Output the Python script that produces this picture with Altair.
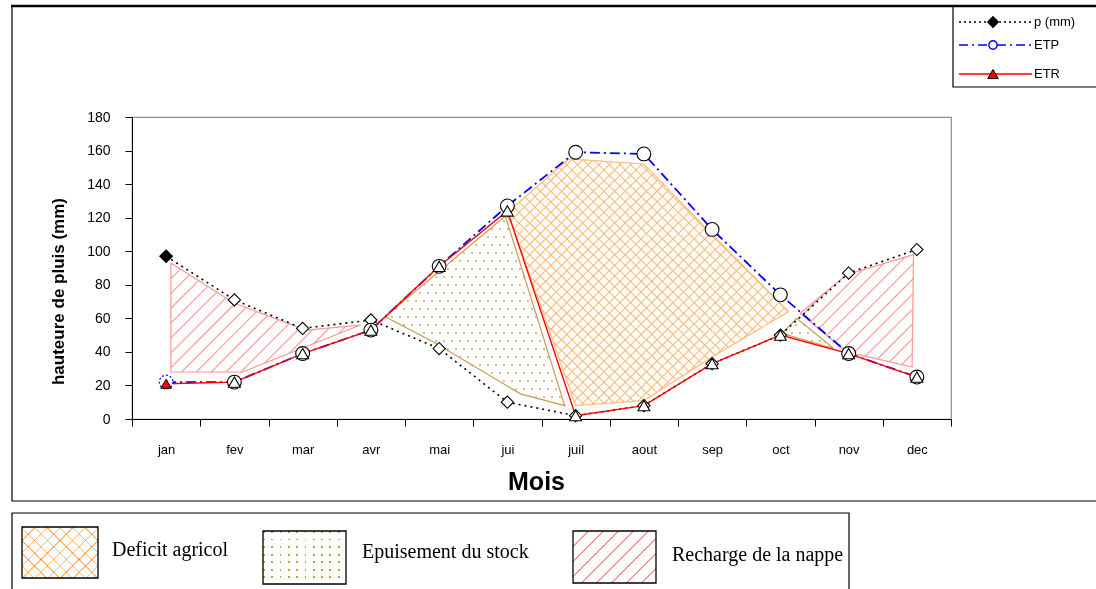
import json
import math

import altair as alt
import pandas as pd

# ---------------------------------------------------------------- data
months = ["jan", "fev", "mar", "avr", "mai", "jui", "juil", "aout", "sep", "oct", "nov", "dec"]
pluie = [97, 71, 54, 59, 42, 10, 2, 8, 33, 50, 87, 101]
etp = [22, 22, 39, 53, 91, 127, 159, 158, 113, 74, 39, 25]
etr = [21, 22, 39, 53, 91, 124, 2, 8, 33, 50, 39, 25]
series_names = ["p  (mm)", "ETP", "ETR"]
y_ticks = [0, 20, 40, 60, 80, 100, 120, 140, 160, 180]

# zones traced between the curves (x = month position, y = mm)
recharge_a_x = [1.07, 2.0, 3.05, 3.85, 2.12, 1.07]
recharge_a_y = [93, 69, 53, 56, 28, 28]
recharge_b_x = [10.29, 10.97, 11.95, 11.93, 10.97]
recharge_b_y = [63, 86, 98, 31, 40]
stock_a_x = [4.21, 5.97, 6.84, 6.19, 4.91]
stock_a_y = [61, 121, 8, 15, 46]
stock_b_x = [10.02, 10.24, 10.78]
stock_b_y = [51, 60, 42]
deficit_x = [5.97, 6.9, 8.0, 9.0, 10.12, 9.0, 8.0, 7.0, 6.05]
deficit_y = [122, 155, 152, 110, 64, 37, 11, 8, 118]
zone_labels = ["Deficit agricol", "Epuisement du stock", "Recharge de la nappe"]

# ---------------------------------------------------------------- layout
W, H = 819, 302
PAD = {"left": 132, "top": 117, "right": 145, "bottom": 170}
X0, X1, Y0, Y1 = 0.5, 12.5, 0, 180
PX_X = W / (X1 - X0)     # pixels per month
PX_Y = H / (Y1 - Y0)     # pixels per mm
SANS = "Liberation Sans, Arial, sans-serif"
SERIF = "Liberation Serif, Times New Roman, serif"

PINK = "#ff9595"
ORANGE = "#ffbb7a"
TAN = "#c89a52"


# ---------------------------------------------------------------- textures
def to_px(x, y):
    return (x - X0) * PX_X, (Y1 - y) * PX_Y


def to_data(px, py):
    return px / PX_X + X0, Y1 - py / PX_Y


def hatch_segments(xs, ys, spacing, direction="/"):
    """45-degree hatch lines clipped to a polygon, returned in data units."""
    pts = [to_px(x, y) for x, y in zip(xs, ys)]
    s = 1 if direction == "/" else -1
    vals = [px + s * py for px, py in pts]
    step = spacing * math.sqrt(2)
    c = math.floor(min(vals) / step) * step + step / 2
    out = []
    n = len(pts)
    while c < max(vals):
        hits = []
        for k in range(n):
            (ax, ay), (bx, by) = pts[k], pts[(k + 1) % n]
            fa, fb = ax + s * ay - c, bx + s * by - c
            if (fa < 0) != (fb < 0):
                t = fa / (fa - fb)
                hits.append((ax + t * (bx - ax), ay + t * (by - ay)))
        hits.sort()
        for j in range(0, len(hits) - 1, 2):
            (px1, py1), (px2, py2) = hits[j], hits[j + 1]
            xa, ya = to_data(px1, py1)
            xb, yb = to_data(px2, py2)
            out.append({"x": xa, "y": ya, "x2": xb, "y2": yb})
        c += step
    return pd.DataFrame(out)


def inside(px, py, pts):
    res = False
    n = len(pts)
    for k in range(n):
        (ax, ay), (bx, by) = pts[k], pts[(k + 1) % n]
        if (ay > py) != (by > py):
            xc = ax + (py - ay) * (bx - ax) / (by - ay)
            if px < xc:
                res = not res
    return res


def dot_grid(xs, ys, dx=8, dy=8):
    pts = [to_px(x, y) for x, y in zip(xs, ys)]
    xmin, xmax = min(p[0] for p in pts), max(p[0] for p in pts)
    ymin, ymax = min(p[1] for p in pts), max(p[1] for p in pts)
    out = []
    r = math.floor(ymin / dy)
    while r * dy <= ymax:
        py = r * dy
        shift = (dx / 2) * (r % 2)
        q = math.floor((xmin - shift) / dx)
        while q * dx + shift <= xmax:
            px = q * dx + shift
            if inside(px, py, pts):
                xa, ya = to_data(px, py)
                out.append({"x": xa, "y": ya})
            q += 1
        r += 1
    return pd.DataFrame(out)


# gradient stripes, used for the small legend swatches
def _stops(n, th, on, off):
    stops = []
    for i in range(n):
        a = i / n
        b = min(a + th, (i + 1) / n)
        c = (i + 1) / n
        stops += [alt.GradientStop(offset=a, color=on),
                  alt.GradientStop(offset=b, color=on),
                  alt.GradientStop(offset=b, color=off),
                  alt.GradientStop(offset=c, color=off)]
    return stops


def hatch_fill(w, h, spacing, color, width=1.0, direction="/"):
    n = max(1, round((w + h) / (math.sqrt(2) * spacing)))
    k = (w + h) / (w * w + h * h)
    a, b = w * k, h * k
    th = width * math.sqrt(2) / (w + h)
    if direction == "/":
        x1, y1, x2, y2 = 0, 0, a, b
    else:
        x1, y1, x2, y2 = 1, 0, 1 - a, b
    return alt.LinearGradient(gradient="linear", x1=x1, y1=y1, x2=x2, y2=y2,
                              stops=_stops(n, th, color, "white"))


def rows_fill(w, h, spacing, color, dot=1.8):
    n = max(1, round(h / spacing))
    return alt.LinearGradient(gradient="linear", x1=0, y1=0, x2=0, y2=1,
                              stops=_stops(n, dot / h, color, "white"))


def comb_fill(w, h, spacing, dot=1.8):
    n = max(1, round(w / spacing))
    return alt.LinearGradient(gradient="linear", x1=0, y1=0, x2=1, y2=0,
                              stops=_stops(n, dot / w, "black", "white"))


# ---------------------------------------------------------------- axes
x_enc = alt.X(
    "x:Q",
    scale=alt.Scale(domain=[X0, X1], nice=False, zero=False),
    axis=alt.Axis(
        values=[i + 0.5 for i in range(13)],
        labelExpr="datum.value < 12 ? " + json.dumps(months) + "[floor(datum.value)] : ''",
        labelOffset=PX_X / 2, labelFlush=False, labelOverlap=False, labelBound=False,
        labelFont=SANS, labelFontSize=13, labelColor="black", labelPadding=17,
        tickSize=7, tickColor="black", domainColor="black", grid=False,
        title="Mois", titleFont=SANS, titleFontSize=25, titleFontWeight="bold",
        titleColor="black", titleBaseline="middle", titleY=62, titleX=404,
    ),
)
y_enc = alt.Y(
    "y:Q",
    scale=alt.Scale(domain=[Y0, Y1], nice=False),
    axis=alt.Axis(
        values=y_ticks, labelFont=SANS, labelFontSize=14, labelColor="black",
        labelPadding=15, tickSize=7, tickColor="black", domainColor="black", grid=False,
        title="hauteure de pluis (mm)", titleFont=SANS, titleFontSize=17,
        titleFontWeight="bold", titleColor="black", titleBaseline="middle",
        titleX=-74, titleY=174, titleAngle=270,
    ),
)
order = alt.Order("i:Q")


def poly_edge(xs, ys, color):
    xs, ys = list(xs) + list(xs[:1]), list(ys) + list(ys[:1])
    df = pd.DataFrame({"x": xs, "y": ys, "i": range(len(xs))})
    return alt.Chart(df).mark_line(color=color, strokeWidth=1.2).encode(
        x=x_enc, y=y_enc, order=order)


def hatch_layer(xs, ys, spacing, color, direction):
    return alt.Chart(hatch_segments(xs, ys, spacing, direction)).mark_rule(
        color=color, strokeWidth=1.1).encode(x=x_enc, y=y_enc, x2="x2:Q", y2="y2:Q")


def dots_layer(xs, ys, color):
    return alt.Chart(dot_grid(xs, ys)).mark_square(
        color=color, size=2.8, opacity=1).encode(x=x_enc, y=y_enc)


layers = []

# stock depletion: tan dots
for xs, ys in [(stock_a_x, stock_a_y), (stock_b_x, stock_b_y)]:
    layers.append(dots_layer(xs, ys, TAN))
    layers.append(poly_edge(xs, ys, TAN))

# agricultural deficit: orange cross-hatch
layers.append(hatch_layer(deficit_x, deficit_y, 7.5, ORANGE, "/"))
layers.append(hatch_layer(deficit_x, deficit_y, 7.5, ORANGE, "\\"))
layers.append(poly_edge(deficit_x, deficit_y, ORANGE))

# groundwater recharge: pink diagonal hatch
for xs, ys in [(recharge_a_x, recharge_a_y), (recharge_b_x, recharge_b_y)]:
    layers.append(hatch_layer(xs, ys, 10.5, PINK, "/"))
    layers.append(poly_edge(xs, ys, PINK))

# ---------------------------------------------------------------- series
pos = list(range(1, 13))
df_p = pd.DataFrame({"x": pos, "y": pluie, "mois": months})
df_etp = pd.DataFrame({"x": pos, "y": etp, "mois": months})
df_etr = pd.DataFrame({"x": pos, "y": etr, "mois": months})

layers.append(alt.Chart(df_p).mark_line(color="black", strokeWidth=1.6, strokeDash=[2, 4])
              .encode(x=x_enc, y=y_enc))
layers.append(alt.Chart(df_etp).mark_line(color="#0000ff", strokeWidth=1.8, strokeDash=[10, 4, 2, 4])
              .encode(x=x_enc, y=y_enc))
layers.append(alt.Chart(df_etr).mark_line(color="#ff0000", strokeWidth=1.4)
              .encode(x=x_enc, y=y_enc))

first = alt.datum.x == 1
rest = alt.datum.x > 1


def markers(df, cond, **style):
    return alt.Chart(df).transform_filter(cond).mark_point(
        filled=True, opacity=1, **style).encode(x=x_enc, y=y_enc)


layers.append(markers(df_p, rest, shape="diamond", size=150, fill="white", stroke="black", strokeWidth=1.1))
layers.append(markers(df_p, first, shape="diamond", size=130, fill="black", stroke="black"))
layers.append(markers(df_etp, rest, shape="circle", size=190, fill="white", stroke="black", strokeWidth=1.1))
layers.append(markers(df_etp, first, shape="circle", size=190, fill="white", stroke="#0000ff",
                      strokeWidth=1.2, strokeDash=[2, 2]))
layers.append(markers(df_etr, rest, shape="triangle-up", size=140, fill="white", stroke="black", strokeWidth=1.1))
layers.append(markers(df_etr, first, shape="triangle-up", size=110, fill="#ff0000", stroke="black", strokeWidth=1))

# ---------------------------------------------------------------- frames
one = pd.DataFrame({"k": [0]})


def box(x, x2, y, y2, width=1.2):
    return alt.Chart(one).mark_rect(fill="transparent", stroke="black", strokeWidth=width).encode(
        x=alt.value(x), x2=alt.value(x2), y=alt.value(y), y2=alt.value(y2))


layers.append(box(-120, 975, -111, 384))
layers.append(alt.Chart(one).mark_rule(color="black", strokeWidth=2.5).encode(
    x=alt.value(-121), x2=alt.value(975), y=alt.value(-111)))
layers.append(box(821, 975, -111, -30))

# series legend
legend_df = pd.DataFrame({"serie": series_names})
legend_rows = [
    (series_names[0], -95, dict(color="black", strokeDash=[2, 3], strokeWidth=1.4),
     dict(shape="diamond", size=90, fill="black", stroke="black")),
    (series_names[1], -72, dict(color="#0000ff", strokeDash=[9, 4, 2, 4], strokeWidth=1.6),
     dict(shape="circle", size=70, fill="white", stroke="#0000ff", strokeWidth=1.4)),
    (series_names[2], -43, dict(color="#ff0000", strokeWidth=1.4),
     dict(shape="triangle-up", size=110, fill="#ff0000", stroke="black", strokeWidth=1)),
]
for name, ly, line_style, mark_style in legend_rows:
    sel = legend_df[legend_df["serie"] == name]
    layers.append(alt.Chart(sel).mark_rule(**line_style).encode(
        x=alt.value(827), x2=alt.value(900), y=alt.value(ly)))
    layers.append(alt.Chart(sel).mark_point(filled=True, opacity=1, **mark_style).encode(
        x=alt.value(861), y=alt.value(ly)))
    layers.append(alt.Chart(sel).mark_text(
        align="left", baseline="middle", font=SANS, fontSize=13, color="black").encode(
        x=alt.value(902), y=alt.value(ly), text="serie:N"))

# zone legend
layers.append(box(-120, 717, 396, 480, 1.2))
zone_df = pd.DataFrame({"zone": zone_labels})
zone_boxes = [
    (zone_labels[0], (-110, -34, 410, 461), (-20, 433)),
    (zone_labels[1], (131, 214, 414, 467), (230, 435)),
    (zone_labels[2], (441, 524, 414, 466), (540, 438)),
]
for name, (bx, bx2, by, by2), (tx, ty) in zone_boxes:
    sel = zone_df[zone_df["zone"] == name]
    w, h = bx2 - bx, by2 - by
    if name == zone_labels[0]:
        fills = [(hatch_fill(w, h, 9, ORANGE, 1.0, "/"), None),
                 (hatch_fill(w, h, 9, ORANGE, 1.0, "\\"), "multiply")]
    elif name == zone_labels[1]:
        fills = [(rows_fill(w, h, 8, TAN), None), (comb_fill(w, h, 8), "lighten")]
    else:
        fills = [(hatch_fill(w, h, 10.5, PINK, 1.0, "/"), None)]
    for f, bl in fills:
        extra = {"blend": bl} if bl else {}
        layers.append(alt.Chart(sel).mark_rect(fill=f, **extra).encode(
            x=alt.value(bx), x2=alt.value(bx2), y=alt.value(by), y2=alt.value(by2)))
    layers.append(alt.Chart(sel).mark_rect(fill="transparent", stroke="black", strokeWidth=1.3).encode(
        x=alt.value(bx), x2=alt.value(bx2), y=alt.value(by), y2=alt.value(by2)))
    layers.append(alt.Chart(sel).mark_text(
        align="left", baseline="middle", font=SERIF, fontSize=20, color="black").encode(
        x=alt.value(tx), y=alt.value(ty), text="zone:N"))

chart = alt.layer(*layers).properties(
    width=W, height=H, padding=PAD, autosize="none", background="white",
).configure_view(stroke="#8c8c8c", strokeWidth=1.2)

chart.save("out.html", embed_options={"renderer": "svg", "actions": False})
